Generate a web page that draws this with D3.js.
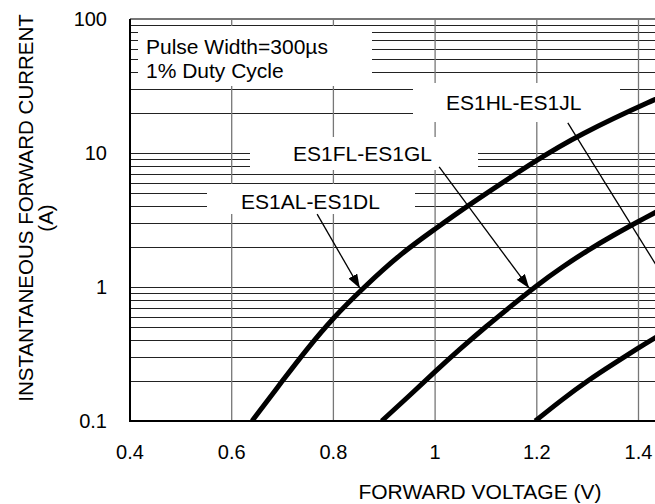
<!DOCTYPE html>
<html>
<head>
<meta charset="utf-8">
<script src="https://cdn.jsdelivr.net/npm/d3@7"></script>
<style>
  html, body { margin: 0; padding: 0; background: #fff; }
  svg { display: block; font-family: "Liberation Sans", Arial, sans-serif; }
</style>
</head>
<body>
<div id="grafico"></div>
<script>
// eixos
const xTicks = [0.4, 0.6, 0.8, 1, 1.2, 1.4, 1.6];
const yTicks = [0.1, 1, 10, 100];

// curvas (tensao V, corrente A)
const alV = [0.64, 0.70, 0.748, 0.799, 0.858, 0.931, 1.0, 1.063, 1.2, 1.28, 1.432, 1.5];
const alI = [0.1, 0.2, 0.345, 0.587, 0.98, 1.76, 2.71, 4.02, 8.9, 13.5, 25.3, 32];
const flV = [0.895, 0.95, 1.0, 1.05, 1.1, 1.15, 1.2, 1.25, 1.3, 1.35, 1.4, 1.432, 1.5];
const flI = [0.1, 0.155, 0.234, 0.347, 0.507, 0.724, 1.03, 1.41, 1.88, 2.43, 3.09, 3.59, 4.9];
const hlV = [1.197, 1.25, 1.3, 1.35, 1.4, 1.432, 1.5];
const hlI = [0.1, 0.145, 0.2, 0.266, 0.351, 0.417, 0.589];

// rotulos das curvas e setas: [V inicio, I inicio, V ponta, I ponta]
const nomes = ["ES1AL-ES1DL", "ES1FL-ES1GL", "ES1HL-ES1JL"];
const setas = [
  [0.768, 3.5, 0.852, 0.98],
  [1.008, 7.87, 1.185, 0.98],
  [1.261, 16.8, 1.499, 0.59]
];
const nota = ["Pulse Width=300µs", "1% Duty Cycle"];

function criarGrafico(target) {
  const largura = 655, altura = 504;
  const esq = 130, topo = 19, base = 421;

  const svg = d3.select(target).append("svg")
    .attr("width", largura)
    .attr("height", altura);

  const x = d3.scaleLinear().domain([0.4, 1.8]).range([esq, esq + 1.4 * 508.5]);
  const y = d3.scaleLog().domain([0.1, 100]).range([base, topo]);
  const dir = x.range()[1];

  svg.append("defs").append("clipPath").attr("id", "area")
    .append("rect").attr("x", esq).attr("y", topo)
    .attr("width", dir - esq).attr("height", base - topo);

  svg.select("defs").append("marker")
    .attr("id", "ponta")
    .attr("markerUnits", "userSpaceOnUse")
    .attr("viewBox", "0 0 14 10")
    .attr("refX", 14).attr("refY", 5)
    .attr("markerWidth", 14).attr("markerHeight", 10)
    .attr("orient", "auto")
    .append("path").attr("d", "M0,0 L14,5 L0,10 Z").attr("fill", "#000");

  // linhas de grade horizontais (1..9 em cada decada)
  const menores = [];
  [0.1, 1, 10].forEach(d => { for (let k = 1; k <= 9; k++) menores.push(d * k); });
  menores.push(100);

  svg.append("g").selectAll("line")
    .data(menores)
    .enter().append("line")
    .attr("x1", esq).attr("x2", dir)
    .attr("y1", d => Math.round(y(d)) + 0.5)
    .attr("y2", d => Math.round(y(d)) + 0.5)
    .attr("stroke", "#222")
    .attr("stroke-width", 1);

  // grade vertical
  svg.append("g").selectAll("line")
    .data(xTicks.slice(1))
    .enter().append("line")
    .attr("x1", d => x(d)).attr("x2", d => x(d))
    .attr("y1", topo).attr("y2", base)
    .attr("stroke", "#777")
    .attr("stroke-width", 1.3);

  // caixas brancas atras dos textos (cortam a grade)
  const caixas = [
    [138, 26, 372, 86],
    [207, 184, 415, 214],
    [250, 137, 478, 170],
    [413, 83, 620, 122]
  ];
  svg.append("g").selectAll("rect")
    .data(caixas)
    .enter().append("rect")
    .attr("x", d => d[0]).attr("y", d => d[1])
    .attr("width", d => d[2] - d[0]).attr("height", d => d[3] - d[1])
    .attr("fill", "#fff");

  // moldura
  svg.append("line").attr("x1", esq).attr("x2", dir).attr("y1", topo).attr("y2", topo)
    .attr("stroke", "#777").attr("stroke-width", 2);
  svg.append("line").attr("x1", esq).attr("x2", esq).attr("y1", topo).attr("y2", base + 1)
    .attr("stroke", "#000").attr("stroke-width", 2);
  svg.append("line").attr("x1", esq).attr("x2", dir).attr("y1", base).attr("y2", base)
    .attr("stroke", "#000").attr("stroke-width", 2);

  // curvas
  const linha = d3.line()
    .x(d => x(d[0])).y(d => y(d[1]))
    .curve(d3.curveBasis);
  const series = [
    d3.zip(alV, alI),
    d3.zip(flV, flI),
    d3.zip(hlV, hlI)
  ];
  svg.append("g").attr("clip-path", "url(#area)")
    .selectAll("path")
    .data(series)
    .enter().append("path")
    .attr("d", linha)
    .attr("fill", "none")
    .attr("stroke", "#000")
    .attr("stroke-width", 5);

  // setas
  svg.append("g").selectAll("line")
    .data(setas)
    .enter().append("line")
    .attr("x1", d => x(d[0])).attr("y1", d => y(d[1]))
    .attr("x2", d => x(d[2])).attr("y2", d => y(d[3]))
    .attr("stroke", "#000")
    .attr("stroke-width", 1.3)
    .attr("marker-end", "url(#ponta)");

  // textos das curvas
  const posNomes = [[241, 209], [293, 161], [446, 110]];
  svg.append("g").selectAll("text")
    .data(nomes)
    .enter().append("text")
    .attr("x", (d, i) => posNomes[i][0])
    .attr("y", (d, i) => posNomes[i][1])
    .attr("fill", "#000")
    .style("font-size", "21px")
    .text(d => d);

  svg.append("g").selectAll("text")
    .data(nota)
    .enter().append("text")
    .attr("x", 146)
    .attr("y", (d, i) => 54 + i * 24)
    .style("font-size", "21px")
    .text(d => d);

  // rotulos dos eixos
  svg.append("g").selectAll("text")
    .data(yTicks)
    .enter().append("text")
    .attr("x", 107)
    .attr("y", d => y(d) + 7)
    .attr("text-anchor", "end")
    .style("font-size", "20px")
    .text(d => d);

  svg.append("g").selectAll("text")
    .data(xTicks)
    .enter().append("text")
    .attr("x", d => x(d))
    .attr("y", 459)
    .attr("text-anchor", "middle")
    .style("font-size", "20px")
    .text(d => d);

  svg.append("text")
    .attr("x", 480).attr("y", 499)
    .attr("text-anchor", "middle")
    .style("font-size", "21px")
    .text("FORWARD VOLTAGE (V)");

  svg.append("text")
    .attr("transform", "translate(33,208) rotate(-90)")
    .attr("text-anchor", "middle")
    .style("font-size", "20.5px")
    .text("INSTANTANEOUS FORWARD CURRENT");
  svg.append("text")
    .attr("transform", "translate(53,218) rotate(-90)")
    .attr("text-anchor", "middle")
    .style("font-size", "20.5px")
    .text("(A)");
}

criarGrafico("#grafico");
</script>
</body>
</html>
